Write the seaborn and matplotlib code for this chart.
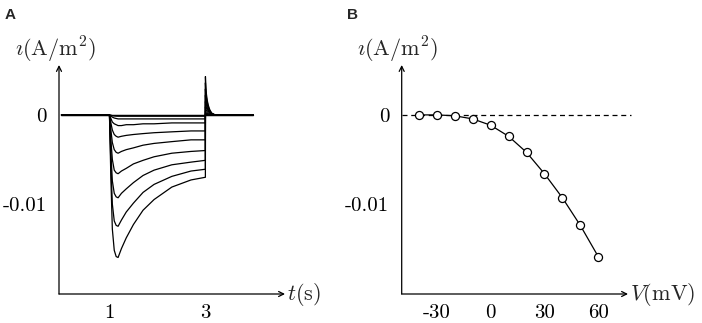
import matplotlib
matplotlib.use("Agg")
import matplotlib.pyplot as plt
import seaborn as sns

# panel B: peak current vs step voltage
voltages = [-40, -30, -20, -10, 0, 10, 20, 30, 40, 50, 60]
peak_current = [0.0, 0.0, -0.0001, -0.00045, -0.00116, -0.0024, -0.0042,
                -0.0066, -0.0093, -0.0124, -0.0159]

# panel A: current traces sampled at these times (s)
t_points = [0.0, 1.0, 1.03, 1.06, 1.1, 1.14, 1.18, 1.25, 1.35, 1.5, 1.7, 1.93,
            2.3, 2.7, 3.0, 3.001, 3.01, 3.02, 3.04, 3.06, 3.09, 3.13, 3.2, 4.0]

trace_m40 = [0.0] * 24
trace_m30 = [0.0] * 24
trace_m20 = [0, 0, -0.00003, -0.00008, -0.00012, -0.00014, -0.00015, -0.00015,
             -0.00015, -0.00015, -0.00015, -0.00015, -0.00015, -0.00015, -0.00015,
             0.00005, 0.00003, 0.00002, 0.00001, 0, 0, 0, 0, 0]
trace_m10 = [0, 0, -0.0001, -0.00025, -0.00035, -0.0004, -0.00045, -0.00045,
             -0.00045, -0.00045, -0.00045, -0.00045, -0.00045, -0.00045, -0.00045,
             0.00015, 0.0001, 0.00008, 0.00006, 0.00004, 0.00002, 0.00001, 0, 0]
trace_p0 = [0, 0, -0.0004, -0.0008, -0.001, -0.0011, -0.0012, -0.0012, -0.0011,
            -0.0011, -0.001, -0.001, -0.0009, -0.0009, -0.0009,
            0.0004, 0.0003, 0.0002, 0.00015, 0.0001, 0.00005, 0.00002, 0, 0]
trace_p10 = [0, 0, -0.0009, -0.0017, -0.0022, -0.0024, -0.0025, -0.0024, -0.0023,
             -0.0022, -0.0021, -0.002, -0.0019, -0.0018, -0.0018,
             0.0009, 0.00065, 0.0005, 0.00035, 0.00022, 0.0001, 0.00005, 0, 0]
trace_p20 = [0, 0, -0.0017, -0.0031, -0.0039, -0.0042, -0.0043, -0.0041, -0.0039,
             -0.0037, -0.0034, -0.0032, -0.003, -0.0028, -0.0028,
             0.0015, 0.0011, 0.0008, 0.0006, 0.0004, 0.0002, 0.0001, 0, 0]
trace_p30 = [0, 0, -0.0028, -0.005, -0.0062, -0.0065, -0.0066, -0.0063, -0.006,
             -0.0055, -0.0051, -0.0047, -0.0043, -0.0041, -0.004,
             0.0022, 0.0016, 0.0012, 0.0008, 0.00055, 0.0003, 0.0001, 0, 0]
trace_p40 = [0, 0, -0.0042, -0.0074, -0.0088, -0.0092, -0.0093, -0.0088, -0.0083,
             -0.0076, -0.0068, -0.0062, -0.0056, -0.0053, -0.0051,
             0.0029, 0.0021, 0.0016, 0.0011, 0.0007, 0.0004, 0.00015, 0, 0]
trace_p50 = [0, 0, -0.0056, -0.01, -0.0119, -0.0124, -0.0125, -0.0118, -0.0109,
             -0.0099, -0.0087, -0.0078, -0.0069, -0.0063, -0.0061,
             0.0036, 0.0026, 0.002, 0.0014, 0.0009, 0.0005, 0.0002, 0, 0]
trace_p60 = [0, 0, -0.0072, -0.0128, -0.0152, -0.0159, -0.016, -0.015, -0.0138,
             -0.0123, -0.0107, -0.0095, -0.0081, -0.0073, -0.007,
             0.0043, 0.0031, 0.0024, 0.0016, 0.0011, 0.0006, 0.0002, 0, 0]

traces = [trace_m40, trace_m30, trace_m20, trace_m10, trace_p0, trace_p10,
          trace_p20, trace_p30, trace_p40, trace_p50, trace_p60]

y_ticks = [0, -0.01]
y_ticklabels = ["0", "-0.01"]
t_ticks = [1, 3]
t_ticklabels = ["1", "3"]
v_ticks = [-30, 0, 30, 60]
v_ticklabels = ["-30", "0", "30", "60"]

sns.set_style("white")
plt.rcParams["mathtext.fontset"] = "cm"
plt.rcParams["font.family"] = ["cmr10", "DejaVu Serif"]
plt.rcParams["axes.unicode_minus"] = False

fig = plt.figure(figsize=(7.02, 3.23), dpi=100)
W, H = 702, 323
TICK_FS = 15
LABEL_FS = 16


def px_axes(x0, y_axis, x1, y_top):
    return fig.add_axes([x0 / W, 1 - y_axis / H, (x1 - x0) / W, (y_axis - y_top) / H])


def style_axes(ax):
    for s in ax.spines.values():
        s.set_visible(False)
    arrow = dict(arrowstyle="->", lw=0.9, color="black", mutation_scale=9,
                 shrinkA=0, shrinkB=0)
    ax.annotate("", xy=(1, 0), xytext=(0, 0), xycoords="axes fraction", arrowprops=arrow)
    ax.annotate("", xy=(0, 1), xytext=(0, 0), xycoords="axes fraction", arrowprops=arrow)
    ax.tick_params(axis="both", direction="out", length=3, width=0.8,
                   labelsize=TICK_FS, colors="black")
    ax.tick_params(axis="x", pad=4)
    ax.tick_params(axis="y", pad=6)
    ax.set_xlabel("")
    ax.set_ylabel("")


# ---- panel A ----
axA = px_axes(59, 294, 285, 65)
for tr in traces:
    sns.lineplot(x=t_points, y=tr, ax=axA, color="black", lw=0.9,
                 estimator=None, sort=False)
axA.set_xlim(-0.052, 4.66)
axA.set_ylim(-0.0201, 0.0056)
axA.set_xticks(t_ticks)
axA.set_xticklabels(t_ticklabels)
axA.set_yticks(y_ticks)
axA.set_yticklabels(y_ticklabels)
style_axes(axA)

# ---- panel B ----
axB = px_axes(401.7, 294, 628, 65)
axB.axhline(0, xmax=1.015, color="black", lw=0.9, ls=(0, (4, 3)), zorder=1,
            clip_on=False)
sns.lineplot(x=voltages, y=peak_current, ax=axB, color="black", lw=0.9,
             marker="o", markersize=5.8, markerfacecolor="white",
             markeredgecolor="black", markeredgewidth=0.9, zorder=3)
axB.set_xlim(-49.6, 76.6)
axB.set_ylim(-0.0201, 0.0056)
axB.set_xticks(v_ticks)
axB.set_xticklabels(v_ticklabels)
axB.set_yticks(y_ticks)
axB.set_yticklabels(y_ticklabels)
style_axes(axB)

# axis labels
ylab = r"$\imath(\mathrm{A/m}^2)$"
fig.text(55 / W, 1 - 50 / H, ylab, ha="center", va="center", fontsize=LABEL_FS)
fig.text(397 / W, 1 - 50 / H, ylab, ha="center", va="center", fontsize=LABEL_FS)
fig.text(287 / W, 1 - 295 / H, r"$t(\mathrm{s})$", ha="left", va="center",
         fontsize=LABEL_FS)
fig.text(630 / W, 1 - 295 / H, r"$V(\mathrm{mV})$", ha="left", va="center",
         fontsize=LABEL_FS)

# panel letters
fig.text(5 / W, 1 - 15 / H, "A", fontsize=11, fontweight="bold",
         family="Liberation Sans", va="center", ha="left")
fig.text(347 / W, 1 - 15 / H, "B", fontsize=11, fontweight="bold",
         family="Liberation Sans", va="center", ha="left")

fig.savefig("out.png", dpi=100)
